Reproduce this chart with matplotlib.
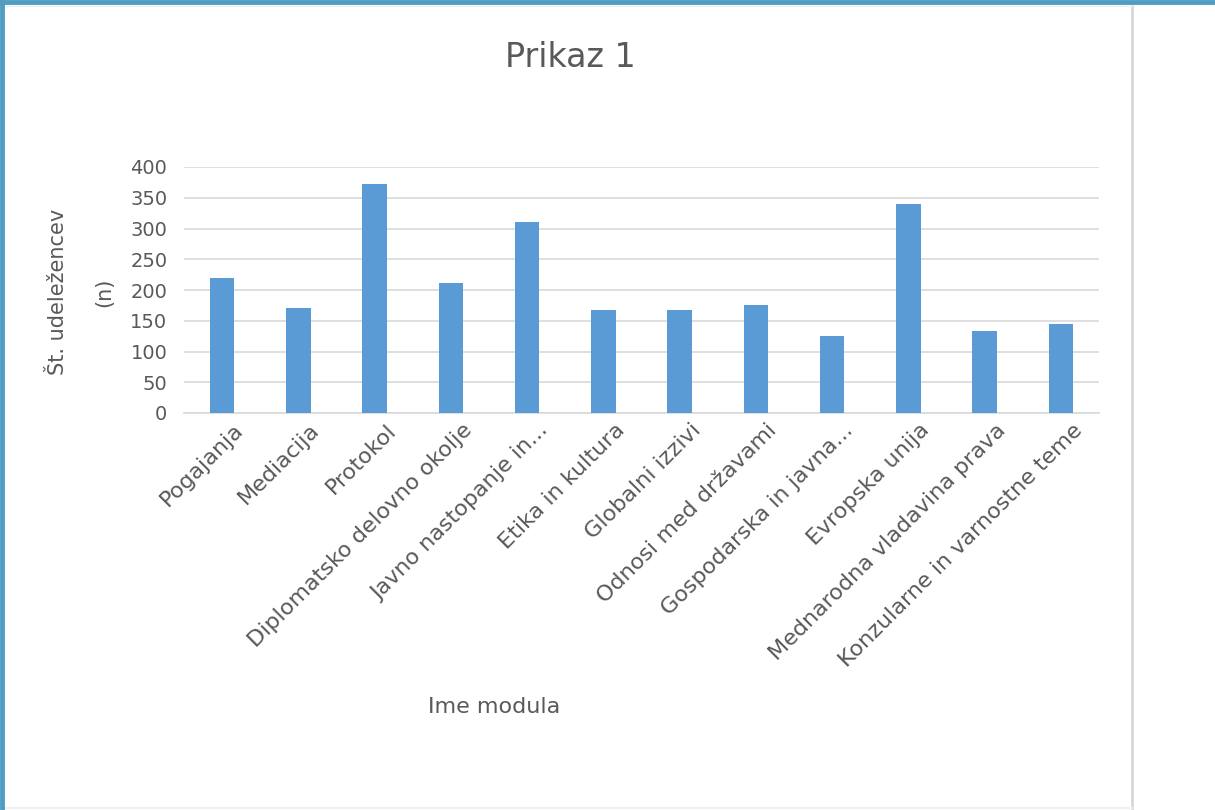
import matplotlib.pyplot as plt
import matplotlib.transforms as mtransforms
import numpy as np
from matplotlib.lines import Line2D

moduli = ['Pogajanja', 'Mediacija', 'Protokol', 'Diplomatsko delovno okolje',
          'Javno nastopanje in...', 'Etika in kultura', 'Globalni izzivi',
          'Odnosi med državami', 'Gospodarska in javna...', 'Evropska unija',
          'Mednarodna vladavina prava', 'Konzularne in varnostne teme']
udelezenci = [220, 171, 372, 212, 310, 167, 167, 175, 126, 340, 134, 145]
y_ticks = [0, 50, 100, 150, 200, 250, 300, 350, 400]

plt.rcParams['font.family'] = ['DejaVu Sans']
siva = '#595959'
W, H = 1215, 810

fig = plt.figure(figsize=(12.15, 8.1), dpi=100)
ax = fig.add_axes([184 / W, 1 - 413 / H, 915 / W, 246 / H])

x = np.arange(len(moduli))
ax.bar(x, udelezenci, width=0.32, color='#5B9BD5', zorder=3)
ax.set_xlim(-0.5, len(moduli) - 0.5)
ax.set_ylim(0, 400)
ax.set_yticks(y_ticks)
ax.set_yticklabels([str(t) for t in y_ticks], fontsize=14, color=siva)
ax.yaxis.grid(True, color='#D9D9D9', linewidth=1.2, zorder=0)
ax.tick_params(axis='y', length=0, pad=12)
ax.tick_params(axis='x', length=0, pad=10)
ax.set_xticks(x)
ax.set_xticklabels(moduli, rotation=45, ha='right', va='center',
                   rotation_mode='anchor', fontsize=16, color=siva)
# oznake nekoliko desno od stolpca, kot v Excelu
premik = mtransforms.ScaledTranslation(18 / 100, 0, fig.dpi_scale_trans)
for lab in ax.get_xticklabels():
    lab.set_transform(lab.get_transform() + premik)
for s in ['top', 'right', 'left']:
    ax.spines[s].set_visible(False)
ax.spines['bottom'].set_color('#D9D9D9')
ax.spines['bottom'].set_linewidth(1.2)

fig.text(570 / W, 1 - 67 / H, 'Prikaz 1', ha='center', va='baseline',
         fontsize=24, color=siva)
fig.text(494 / W, 1 - 713 / H, 'Ime modula', ha='center', va='baseline',
         fontsize=16, color=siva)
fig.text(58 / W, 1 - 292 / H, 'Št. udeležencev', ha='center', va='center',
         rotation=90, fontsize=15, color=siva)
fig.text(104 / W, 1 - 292 / H, '(n)', ha='center', va='center',
         rotation=90, fontsize=15, color=siva)

# okvir posnetka zaslona
fig.add_artist(Line2D([1132 / W] * 2, [0, 1 - 6 / H], color='#D4D4D4', linewidth=1.8))
fig.add_artist(Line2D([6 / W, 1132 / W], [1 - 6 / H] * 2, color='#EEEEEE', linewidth=1))
fig.add_artist(Line2D([6 / W, 1132 / W], [2 / H] * 2, color='#F0F0F0', linewidth=1.5))
fig.add_artist(Line2D([0, 1], [1 - 1.5 / H] * 2, color='#4F9DC3', linewidth=3.5))
fig.add_artist(Line2D([1.5 / W] * 2, [0, 1], color='#4F9DC3', linewidth=3.5))

fig.savefig('out.png', dpi=100)
